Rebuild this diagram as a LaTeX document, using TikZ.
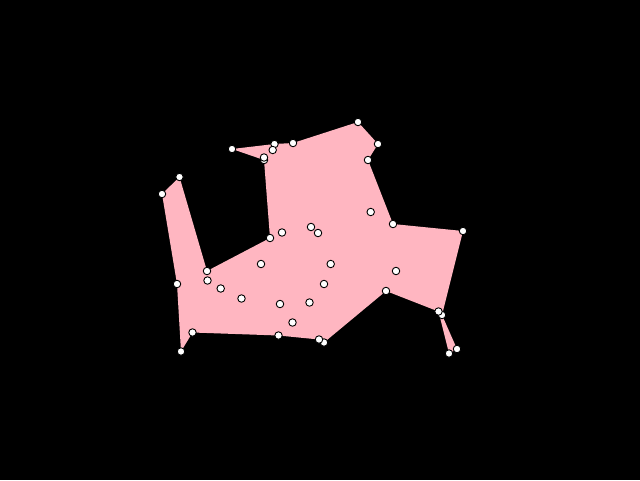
\documentclass[tikz,border=0pt]{standalone}
\begin{document}
\begin{tikzpicture}[x=1pt,y=-1pt,
  pt/.style={circle,draw=black,fill=white,line width=0.9pt,inner sep=0pt,minimum size=7.5pt}]
\definecolor{polypink}{RGB}{255,182,193}
\fill[black] (0,0) rectangle (640,480);
\useasboundingbox (0,0) rectangle (640,480);
% boundary coordinates
\coordinate (p1) at (162,194);
\coordinate (p2) at (179.5,177);
\coordinate (p3) at (207,271);
\coordinate (p4) at (270,238);
\coordinate (p5) at (264,160);
\coordinate (p6) at (232,149);
\coordinate (p7) at (274.5,144);
\coordinate (p8) at (293,143);
\coordinate (p9) at (358,122);
\coordinate (p10) at (378,144);
\coordinate (p11) at (368,160);
\coordinate (p12) at (393,224);
\coordinate (p13) at (463,231);
\coordinate (p14) at (442,315);
\coordinate (p15) at (457,349);
\coordinate (p16) at (449,353.5);
\coordinate (p17) at (438.5,311.5);
\coordinate (p18) at (386,291);
\coordinate (p19) at (324,342.5);
\coordinate (p20) at (319,339.5);
\coordinate (p21) at (278.5,335.5);
\coordinate (p22) at (192.5,332.5);
\coordinate (p23) at (181,351.5);
\coordinate (p24) at (177,284);
\fill[polypink] (p1) -- (p2) -- (p3) -- (p4) -- (p5) -- (p6) -- (p7) -- (p8) -- (p9) -- (p10) -- (p11) -- (p12) -- (p13) -- (p14) -- (p15) -- (p16) -- (p17) -- (p18) -- (p19) -- (p20) -- (p21) -- (p22) -- (p23) -- (p24) -- cycle;
% extra points
\coordinate (q1) at (264,157.5);
\coordinate (q2) at (272.7,150);
\coordinate (q3) at (282,232.5);
\coordinate (q4) at (311,227);
\coordinate (q5) at (318,233);
\coordinate (q6) at (370.7,212);
\coordinate (q7) at (261,264);
\coordinate (q8) at (330.7,264);
\coordinate (q9) at (396,271);
\coordinate (q10) at (324,284);
\coordinate (q11) at (309.5,302.5);
\coordinate (q12) at (280,304);
\coordinate (q13) at (241.5,298.5);
\coordinate (q14) at (220.7,288.5);
\coordinate (q15) at (207.5,280.5);
\coordinate (q16) at (292.5,322.5);
\foreach \i in {1,...,24} \node[pt] (n\i) at (p\i) {};
\foreach \i in {1,...,16} \node[pt] (m\i) at (q\i) {};
\end{tikzpicture}
\end{document}
